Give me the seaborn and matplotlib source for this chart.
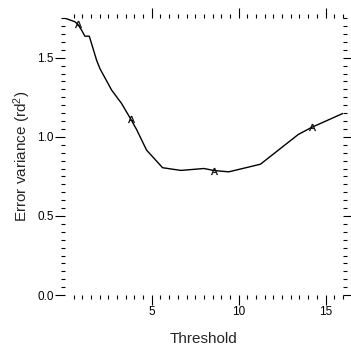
import numpy as np
import pandas as pd
import matplotlib
matplotlib.use('Agg')
import matplotlib.pyplot as plt
from matplotlib.ticker import MultipleLocator, FixedLocator
import seaborn as sns

# data
threshold = [0, 0.2, 0.58, 0.75, 0.96, 1.15, 1.4, 1.53, 1.82, 2.01, 2.69, 3.26,
             3.8, 4.12, 4.7, 5.62, 6.67, 8.0, 8.6, 9.43, 11.25, 13.43, 14.2, 16.0]
err_var = [1.75, 1.742, 1.727, 1.71, 1.674, 1.636, 1.636, 1.59, 1.485, 1.432, 1.295, 1.211,
           1.11, 1.047, 0.916, 0.805, 0.788, 0.80, 0.787, 0.779, 0.827, 1.015, 1.06, 1.148]
marker_idx = [3, 12, 18, 22]

df = pd.DataFrame({'Threshold': threshold, 'ErrVar': err_var})

sns.set_style('ticks')
plt.rcParams['font.family'] = ['Liberation Sans', 'DejaVu Sans']
plt.rcParams['mathtext.default'] = 'regular'

fig = plt.figure(figsize=(3.51, 3.56), dpi=100)
ax = fig.add_axes([0.185, 0.171, 0.792, 0.778])

sns.lineplot(data=df, x='Threshold', y='ErrVar', ax=ax, color='black', lw=1.0,
             marker='$A$', markersize=5, markevery=marker_idx,
             markerfacecolor='black', markeredgecolor='black', markeredgewidth=0.2,
             sort=False, estimator=None)

ax.set_xlim(0, 16)
ax.set_ylim(0, 1.75)

for s in ax.spines.values():
    s.set_visible(False)

ax.xaxis.set_major_locator(FixedLocator([5, 10, 15]))
ax.xaxis.set_minor_locator(FixedLocator(np.arange(0.5, 16.01, 0.5)))
ax.yaxis.set_major_locator(MultipleLocator(0.5))
ax.yaxis.set_minor_locator(FixedLocator(np.round(np.arange(0.05, 1.751, 0.05), 2)))
ax.yaxis.set_major_formatter(plt.FuncFormatter(lambda v, p: f'{v:.1f}'))

ax.tick_params(which='both', direction='out', top=True, right=True,
               labeltop=False, labelright=False, colors='black', labelsize=8.5, width=0.8)
ax.tick_params(which='major', length=7, pad=1)
ax.tick_params(which='minor', length=3)

ax.set_xlabel('Threshold', fontsize=11, labelpad=10)
ax.set_ylabel('Error variance (rd$^2$)', fontsize=11, labelpad=3)

fig.savefig('out.png', dpi=100)
